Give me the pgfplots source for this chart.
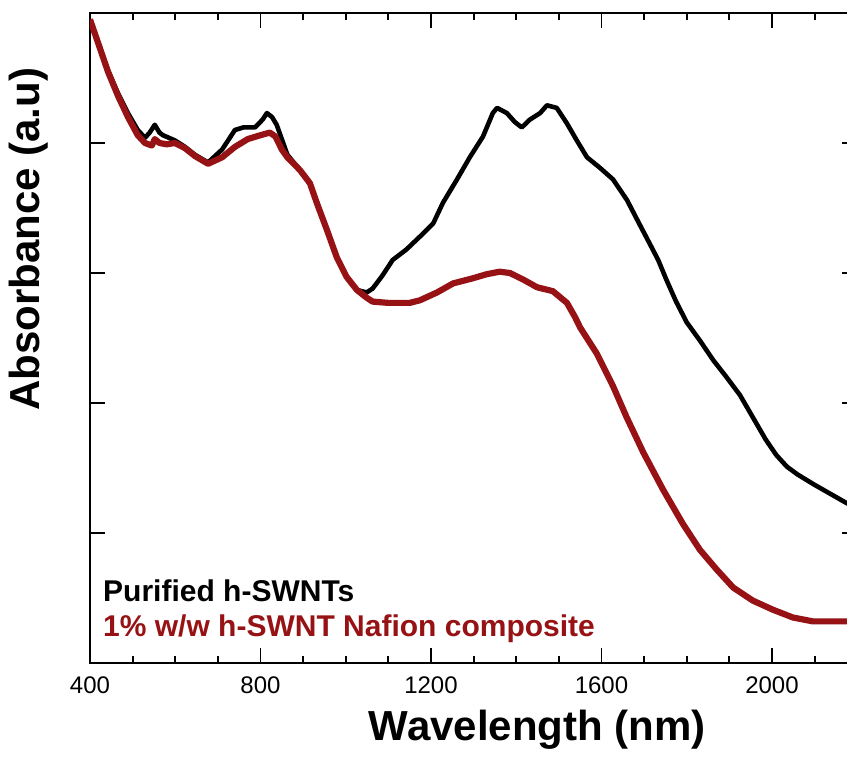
\documentclass[border=0pt]{standalone}
\usepackage{fontspec}
\setmainfont{Liberation Sans}
\usepackage{pgfplots}
\pgfplotsset{compat=1.18}
\definecolor{wine}{RGB}{150,18,20}
\begin{document}
\begin{tikzpicture}
\path[use as bounding box] (-90pt,-104pt) rectangle (757pt,663pt);
\begin{axis}[
  at={(0pt,0pt)}, anchor=south west,
  scale only axis, width=767.25pt, height=650pt,
  xmin=400, xmax=2200, ymin=0, ymax=5,
  axis line style={line width=2pt},
  xtick={400,800,1200,1600,2000},
  minor xtick={500,600,700,900,1000,1100,1300,1400,1500,1700,1800,1900,2100},
  ytick={1,2,3,4}, yticklabels={},
  tick align=inside,
  major tick length=15pt, minor tick length=7pt,
  every tick/.style={line width=1.8pt, black},
  /pgf/number format/assume math mode=true,
  /pgf/number format/1000 sep={},
  xticklabel style={font=\fontsize{24}{28}\selectfont, yshift=-10pt},
  xlabel={\textbf{Wavelength (nm)}},
  xlabel style={font=\fontsize{42}{48}\selectfont, at={(rel axis cs:0.583,0)}, anchor=north, yshift=-44pt},
  ylabel={\textbf{Absorbance (a.u)}},
  ylabel style={font=\fontsize{42}{48}\selectfont, at={(rel axis cs:0,0.652)}, anchor=south, yshift=38pt},
  clip=true,
]
\addplot[black, line width=4.6pt, line join=round] coordinates {
(400,4.95) (419,4.77) (442,4.56) (466,4.38) (489,4.23) (512,4.10) (529,4.04) (540,4.08) (552,4.14) (563,4.08) (571,4.06) (599,4.02) (623,3.97) (646,3.91) (677,3.85) (710,3.95) (740,4.10) (760,4.12) (787,4.12) (805,4.18) (815,4.23) (827,4.20) (838,4.14) (863,3.91) (893,3.79) (916,3.69) (932,3.54) (956,3.33) (979,3.12) (1002,2.97) (1026,2.87) (1049,2.85) (1063,2.88) (1086,2.98) (1110,3.10) (1142,3.18) (1174,3.28) (1205,3.38) (1228,3.54) (1261,3.72) (1291,3.89) (1322,4.05) (1345,4.23) (1355,4.27) (1378,4.23) (1397,4.16) (1413,4.12) (1432,4.18) (1456,4.23) (1472,4.29) (1495,4.27) (1519,4.15) (1542,4.02) (1566,3.89) (1596,3.81) (1627,3.72) (1660,3.56) (1690,3.37) (1714,3.22) (1733,3.10) (1752,2.95) (1775,2.78) (1800,2.62) (1831,2.48) (1862,2.33) (1893,2.20) (1925,2.06) (1955,1.89) (1985,1.72) (2010,1.60) (2035,1.51) (2060,1.45) (2100,1.37) (2143,1.29) (2175,1.23) (2200,1.19)
};
\addplot[wine, line width=6.2pt, line join=round] coordinates {
(400,4.95) (419,4.77) (442,4.55) (466,4.36) (489,4.20) (512,4.06) (529,4.00) (545,3.98) (552,4.03) (563,4.00) (580,3.99) (599,4.00) (623,3.96) (646,3.90) (677,3.84) (710,3.89) (740,3.97) (770,4.03) (800,4.06) (822,4.08) (835,4.05) (850,3.95) (863,3.89) (893,3.79) (916,3.69) (932,3.54) (956,3.33) (979,3.12) (1002,2.97) (1026,2.87) (1049,2.81) (1063,2.78) (1100,2.77) (1150,2.77) (1174,2.79) (1214,2.85) (1252,2.92) (1299,2.96) (1330,2.99) (1361,3.01) (1385,3.00) (1416,2.95) (1449,2.89) (1486,2.86) (1519,2.77) (1538,2.66) (1550,2.58) (1589,2.38) (1627,2.13) (1659,1.89) (1698,1.62) (1745,1.33) (1791,1.07) (1831,0.87) (1870,0.72) (1909,0.58) (1955,0.48) (2002,0.41) (2049,0.35) (2096,0.32) (2150,0.32) (2200,0.32)
};
\node[anchor=base west, inner sep=0pt, font=\fontsize{30}{34}\selectfont\bfseries] at ([xshift=13pt,yshift=61pt]rel axis cs:0,0) {Purified h-SWNTs};
\node[anchor=base west, inner sep=0pt, font=\fontsize{30}{34}\selectfont\bfseries, text=wine] at ([xshift=13pt,yshift=26pt]rel axis cs:0,0) {1\% w/w h-SWNT Nafion composite};
\end{axis}
\end{tikzpicture}
\end{document}
